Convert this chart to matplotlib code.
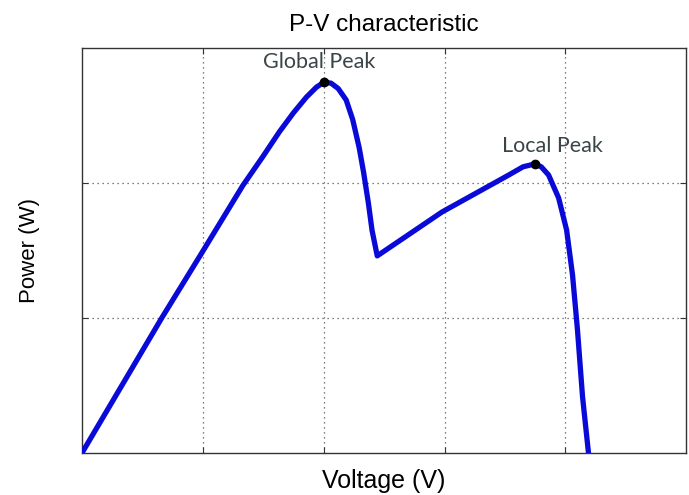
import numpy as np
import matplotlib
matplotlib.use('Agg')
import matplotlib.pyplot as plt

# P-V curve (arbitrary units, axes 0..5 by 0..3)
voltage = [0.0, 0.33, 0.66, 0.99, 1.33, 1.5, 1.634, 1.75, 1.856, 1.94, 2.0,
           2.06, 2.12, 2.186, 2.24, 2.294, 2.33, 2.37, 2.40, 2.443,
           2.979, 3.531, 3.65, 3.746, 3.80, 3.861, 3.944, 4.01, 4.059, 4.10, 4.142, 4.191]
power = [0.0, 0.5, 1.0, 1.48, 1.98, 2.2, 2.38, 2.52, 2.635, 2.71, 2.745,
         2.74, 2.70, 2.615, 2.47, 2.26, 2.08, 1.85, 1.65, 1.46,
         1.785, 2.059, 2.12, 2.141, 2.12, 2.059, 1.889, 1.652, 1.319, 0.911, 0.415, 0.0]

peak_names = ['Global Peak', 'Local Peak']
peak_v = [2.0, 3.746]
peak_p = [2.745, 2.141]

fig = plt.figure(figsize=(6.89, 4.95), dpi=100)
ax = fig.add_axes([0.119, 0.085, 0.877, 0.818])

ax.plot(voltage, power, color='#0a0ad8', linewidth=3.8, solid_joinstyle='round', solid_capstyle='round', zorder=3)
ax.plot(peak_v, peak_p, 'o', color='black', markersize=6, zorder=4)

offsets = [(-0.04, 0.11), (0.15, 0.09)]
for name, v, p, off in zip(peak_names, peak_v, peak_p, offsets):
	ax.text(v + off[0], p + off[1], name, ha='center', va='baseline', fontsize=15.5,
		color='#3a4548', family='Lato')

ax.set_xlim(0, 5)
ax.set_ylim(0, 3)
ax.set_xticks([1, 2, 3, 4])
ax.set_yticks([1, 2])
ax.set_xticklabels([])
ax.set_yticklabels([])
ax.tick_params(direction='in', length=4, top=True, right=True, color='#333333')
ax.grid(True, linestyle=(0, (1, 3)), color='#555555', linewidth=0.9)
for s in ax.spines.values():
	s.set_color('#333333')
	s.set_linewidth(1.0)

ax.set_xlabel('Voltage (V)', fontsize=18, family='Liberation Sans', labelpad=8)
ax.set_ylabel('Power (W)', fontsize=16, family='Liberation Sans', labelpad=27)
ax.set_title('P-V characteristic', fontsize=17.5, family='Liberation Sans', pad=12)

plt.savefig('out.png', dpi=100)
